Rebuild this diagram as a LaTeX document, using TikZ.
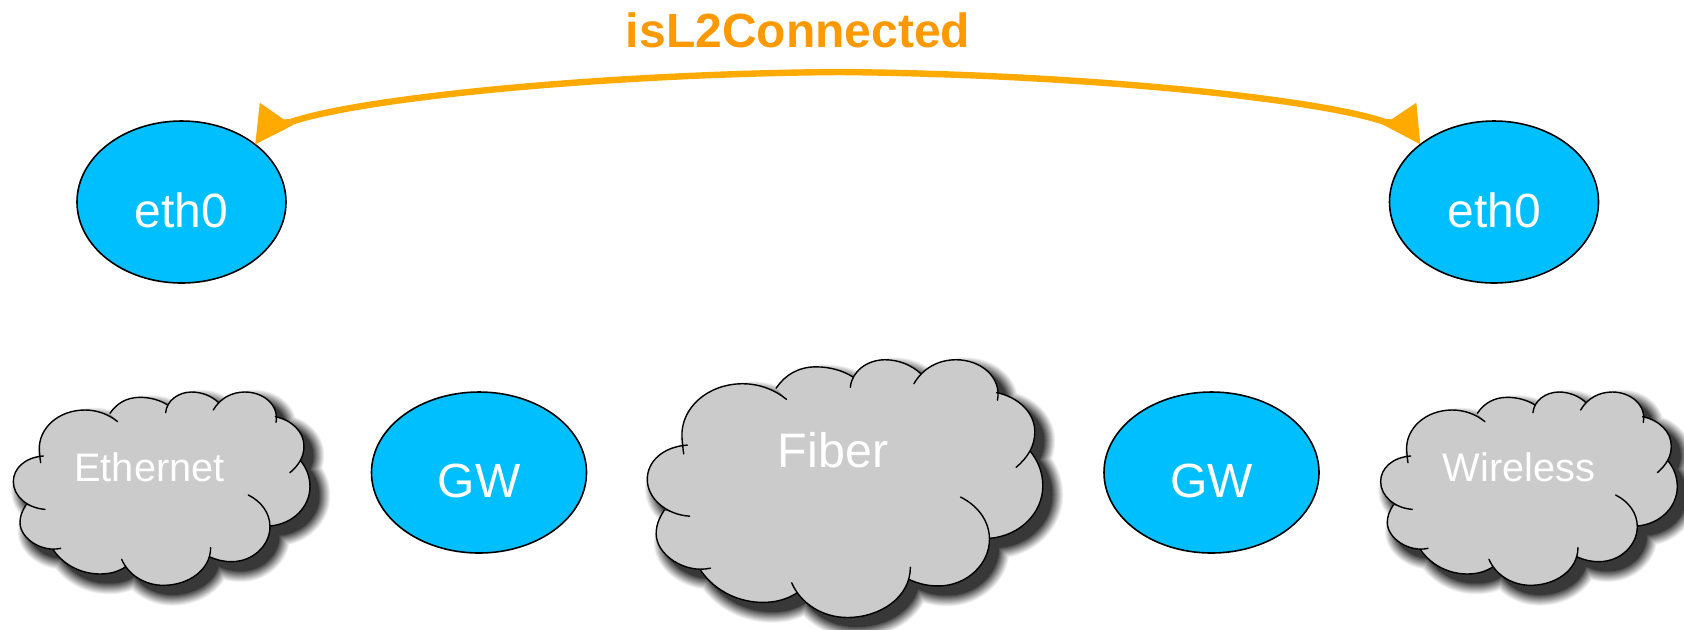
\documentclass[tikz,border=0pt]{standalone}
\usepackage{fontspec}
\setmainfont{Liberation Sans}
\usetikzlibrary{arrows.meta,shapes.geometric}
\definecolor{linkorange}{HTML}{FFAA00}
\definecolor{titleorange}{HTML}{FF9900}
\definecolor{ifaceblue}{HTML}{00BFFF}
\definecolor{cloudgray}{HTML}{CBCBCB}

% outline of a cloud, one curve per lobe; #1 joins the lobes
\newcommand{\cloudpath}[1]{
	(130,258) .. controls (75,262) and (40,295) .. (40,335) .. controls (40,380) and (85,415) .. (135,418) #1
	(78,405) .. controls (65,425) and (60,440) .. (60,458) .. controls (60,505) and (125,548) .. (182,535) #1
	(160,540) .. controls (195,590) and (250,612) .. (300,612) .. controls (330,612) and (355,605) .. (378,590) #1
	(365,568) .. controls (385,615) and (435,646) .. (490,646) .. controls (565,646) and (632,600) .. (632,533) #1
	(628,560) .. controls (650,570) and (670,575) .. (695,575) .. controls (760,575) and (810,525) .. (810,470) .. controls (810,430) and (785,395) .. (745,375) #1
	(810,468) .. controls (880,462) and (930,410) .. (930,350) .. controls (930,320) and (920,295) .. (902,272) #1
	(870,308) .. controls (897,285) and (912,260) .. (912,228) .. controls (912,185) and (875,150) .. (826,140) #1
	(828,157) .. controls (838,105) and (790,66) .. (735,66) .. controls (695,66) and (660,85) .. (640,120) #1
	(655,97) .. controls (635,78) and (605,66) .. (575,66) .. controls (535,66) and (500,92) .. (497,128) #1
	(503,105) .. controls (480,90) and (450,82) .. (420,82) .. controls (380,82) and (350,100) .. (330,130) #1
	(353,155) .. controls (325,132) and (290,120) .. (255,120) .. controls (175,120) and (115,175) .. (118,240) .. controls (119,252) and (120,265) .. (122,278)
}
% x, y, scale
\newcommand{\netcloud}[3]{
	\begin{scope}[shift={(#1+9,#2+9)},scale=#3]
		\foreach \r [evaluate=\r as \c using 78-3.25*\r] in {24,23,...,0}
			\filldraw[draw=black!\c,fill=black!\c,line width=\r*0.5pt,line join=round] \cloudpath{--} -- cycle;
	\end{scope}
	\begin{scope}[shift={(#1,#2)},scale=#3]
		\fill[cloudgray] \cloudpath{--} -- cycle;
		\draw[cloud-line] \cloudpath{};
	\end{scope}
}

\begin{document}
\begin{tikzpicture}[x=0.5pt,y=-0.5pt]
	\def \toprow{202}
	\def \gwrow{472.5}
	\tikzstyle{iface}=[ellipse,draw=black,fill=ifaceblue,text=white,line width=0.8pt,inner sep=0pt,outer sep=0pt,minimum width=104.5pt,minimum height=81pt,font=\fontsize{24}{28}\selectfont,text height=25pt,text depth=0pt]
	\tikzstyle{gw}=[iface,minimum width=107.5pt,minimum height=80.5pt]
	\tikzstyle{cloud-line}=[draw=black,line width=0.7pt,line cap=round]
	\tikzstyle{big-text}=[text=white,anchor=base,inner sep=0pt,font=\fontsize{24.2}{28}\selectfont]
	\tikzstyle{small-text}=[text=white,anchor=base,inner sep=0pt,font=\fontsize{19.9}{24}\selectfont]
	\tikzstyle{link}=[draw=linkorange,line width=3.2pt,line join=round,{Triangle[length=18.5pt,width=19pt,fill=linkorange]}-{Triangle[length=18.5pt,width=19pt,fill=linkorange]}]
	\useasboundingbox (0,0) rectangle (1684,629);

	% clouds
	\netcloud{0}{370}{0.3333}
	\netcloud{629.5}{330.4}{0.4444}
	\netcloud{1367.3}{370}{0.3333}
	\node[small-text]	(ethernet)	at (149.5,481)	{Ethernet};
	\node[big-text]		(fiber)		at (833,467)	{Fiber};
	\node[small-text]	(wireless)	at (1519,481)	{Wireless};

	% interfaces
	\node[iface]	(eth-left)	at (181.5,\toprow)	{eth0};
	\node[iface]	(eth-right)	at (1494,\toprow)	{eth0};

	% gateways
	\node[gw]	(gw-left)	at (479,\gwrow)		{GW};
	\node[gw]	(gw-right)	at (1211.5,\gwrow)	{GW};

	% the link between the two interfaces
	\node[anchor=base,inner sep=0pt,text=titleorange,font=\fontsize{24}{28}\selectfont\bfseries] (link-label) at (798,47) {isL2Connected};
	\coordinate (head-left) at (270,123);
	\coordinate (head-right) at (1406,123);
	\coordinate (knee-left) at (290,122.3);
	\coordinate (knee-right) at (1386,122.3);
	\coordinate (peak) at (838,72);
	\draw[link] (eth-left.38) -- (head-left) -- (knee-left)
		.. controls (360,98) and (600,74) .. (peak)
		.. controls (1076,74) and (1316,98) .. (knee-right)
		-- (head-right) -- (eth-right.142);
\end{tikzpicture}
\end{document}
